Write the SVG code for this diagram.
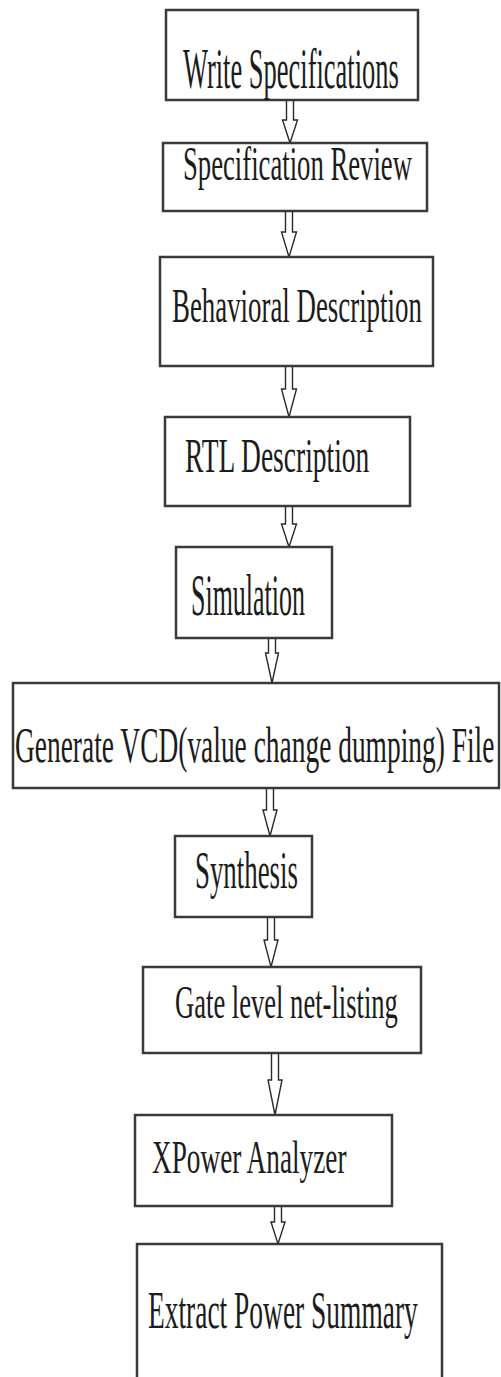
<svg xmlns="http://www.w3.org/2000/svg" width="501" height="1377" viewBox="0 0 501 1377">
<style>
.box{fill:#ffffff;stroke:#3a3a3a;stroke-width:2.5}
.lbl{font-family:"Liberation Serif","Times New Roman",serif;fill:#1c1c1c}
.arr{fill:#ffffff;stroke:#2a2a2a;stroke-width:1.4;stroke-linejoin:miter}
</style>
<rect x="0" y="0" width="501" height="1377" fill="#ffffff"/>
<g id="connectors">
<polygon class="arr" points="286.5,100 293.5,100 293.5,120 297.5,120 290,143 282.5,120 286.5,120"/>
<polygon class="arr" points="285.5,211 292.5,211 292.5,232 296.5,232 289,257 281.5,232 285.5,232"/>
<polygon class="arr" points="285.5,366 292.5,366 292.5,389 296.5,389 289,417 281.5,389 285.5,389"/>
<polygon class="arr" points="285.5,506 292.5,506 292.5,524 296.5,524 289,547 281.5,524 285.5,524"/>
<polygon class="arr" points="268.5,638 275.5,638 275.5,653 278.5,653 272,683 265.5,653 268.5,653"/>
<polygon class="arr" points="266.5,788 273.5,788 273.5,810 277,810 270,836 263,810 266.5,810"/>
<polygon class="arr" points="267.5,917 274.5,917 274.5,940 278,940 271,967 264,940 267.5,940"/>
<polygon class="arr" points="271.5,1053 278.5,1053 278.5,1080 282,1080 275,1115 268,1080 271.5,1080"/>
<polygon class="arr" points="274.5,1206 281.5,1206 281.5,1222 285,1222 278,1244 271,1222 274.5,1222"/>
</g>
<g id="n1"><rect class="box" x="166" y="10" width="252" height="90"/><text class="lbl" font-size="57" transform="translate(183,88) scale(0.4647,1)">Write Specifications</text></g>
<g id="n2"><rect class="box" x="163" y="143" width="264" height="68"/><text class="lbl" font-size="48" transform="translate(183,180) scale(0.556,1)">Specification Review</text></g>
<g id="n3"><rect class="box" x="160" y="257" width="273" height="109"/><text class="lbl" font-size="48" transform="translate(172,322) scale(0.5598,1)">Behavioral Description</text></g>
<g id="n4"><rect class="box" x="165" y="417" width="245" height="89"/><text class="lbl" font-size="48" transform="translate(185,472) scale(0.5725,1)">RTL Description</text></g>
<g id="n5"><rect class="box" x="176" y="547" width="156" height="91"/><text class="lbl" font-size="59" transform="translate(191,615) scale(0.44,1)">Simulation</text></g>
<g id="n6"><rect class="box" x="13" y="683" width="486" height="105"/><text class="lbl" font-size="51" transform="translate(15,762) scale(0.538,1)">Generate VCD(value change dumping) File</text></g>
<g id="n7"><rect class="box" x="175" y="836" width="137" height="81"/><text class="lbl" font-size="53" transform="translate(195,888) scale(0.507,1)">Synthesis</text></g>
<g id="n8"><rect class="box" x="143" y="967" width="278" height="86"/><text class="lbl" font-size="47" transform="translate(175,1018) scale(0.5657,1)">Gate level net-listing</text></g>
<g id="n9"><rect class="box" x="135" y="1115" width="257" height="91"/><text class="lbl" font-size="47" transform="translate(152,1173) scale(0.5799,1)">XPower Analyzer</text></g>
<g id="n10"><rect class="box" x="137" y="1244" width="305" height="150"/><text class="lbl" font-size="53" transform="translate(148,1328) scale(0.518,1)">Extract Power Summary</text></g>
</svg>
